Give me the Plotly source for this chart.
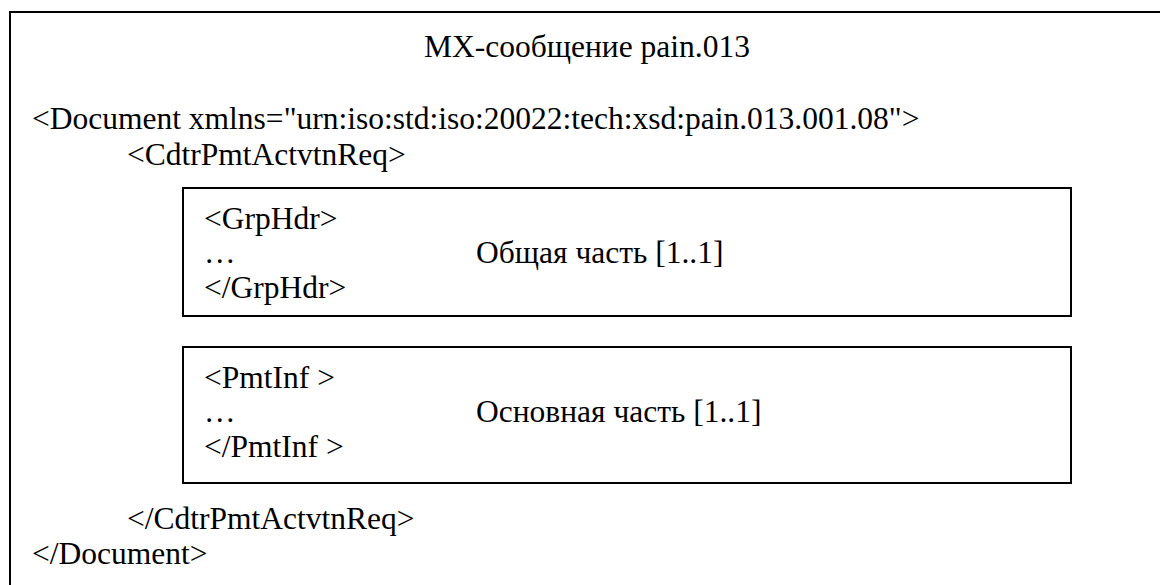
import plotly.graph_objects as go

W, H = 1168, 585
OFF = 8  # default page body margin

title_text = "MX-сообщение pain.013"
outer_lines = [
    '<Document xmlns="urn:iso:std:iso:20022:tech:xsd:pain.013.001.08">',
    "<CdtrPmtActvtnReq>",
    "</CdtrPmtActvtnReq>",
    "</Document>",
]
outer_x = [30, 125, 125, 30]
outer_y = [118, 154, 518, 553]

box1_lines = ["<GrpHdr>", "…", "</GrpHdr>"]
box1_label = "Общая часть [1..1]"
box2_lines = ["<PmtInf >", "…", "</PmtInf >"]
box2_label = "Основная часть [1..1]"

box_x0, box_x1 = 183, 1071
box1_y = (188, 316)
box2_y = (347, 483)
box1_text_y = [218, 252, 287]
box2_text_y = [377, 411, 446]
text_x = 202
label_x = 474

FONT = "Liberation Serif"
FS = 31.5

fig = go.Figure()
fig.add_trace(go.Scatter(x=[100], y=[100], mode="markers", marker=dict(opacity=0), hoverinfo="skip", showlegend=False))

shapes = [
    dict(type="rect", x0=10, x1=1166, y0=12, y1=620, line=dict(color="black", width=2)),
    dict(type="rect", x0=box_x0, x1=box_x1, y0=box1_y[0], y1=box1_y[1], line=dict(color="black", width=2)),
    dict(type="rect", x0=box_x0, x1=box_x1, y0=box2_y[0], y1=box2_y[1], line=dict(color="black", width=2)),
]

ann = []
def add(text, x, y, anchor="left"):
    ann.append(dict(text=text, x=x, y=y, xref="x", yref="y", xanchor=anchor, yanchor="middle",
                    showarrow=False, font=dict(family=FONT, size=FS, color="black")))

add(title_text, 587, 46, "center")
for t, x, y in zip(outer_lines, outer_x, outer_y):
    add(t, x, y)
for t, y in zip(box1_lines, box1_text_y):
    add(t, text_x, y)
add(box1_label, label_x, box1_text_y[1])
for t, y in zip(box2_lines, box2_text_y):
    add(t, text_x, y)
add(box2_label, label_x, box2_text_y[1])

fig.update_layout(
    width=W - OFF, height=H - OFF, margin=dict(l=0, r=0, t=0, b=0),
    paper_bgcolor="white", plot_bgcolor="white",
    xaxis=dict(range=[OFF, W], visible=False, fixedrange=True),
    yaxis=dict(range=[H, OFF], visible=False, fixedrange=True),
    shapes=shapes, annotations=ann, showlegend=False,
)
fig.write_html("out.html", config={"displayModeBar": False})
